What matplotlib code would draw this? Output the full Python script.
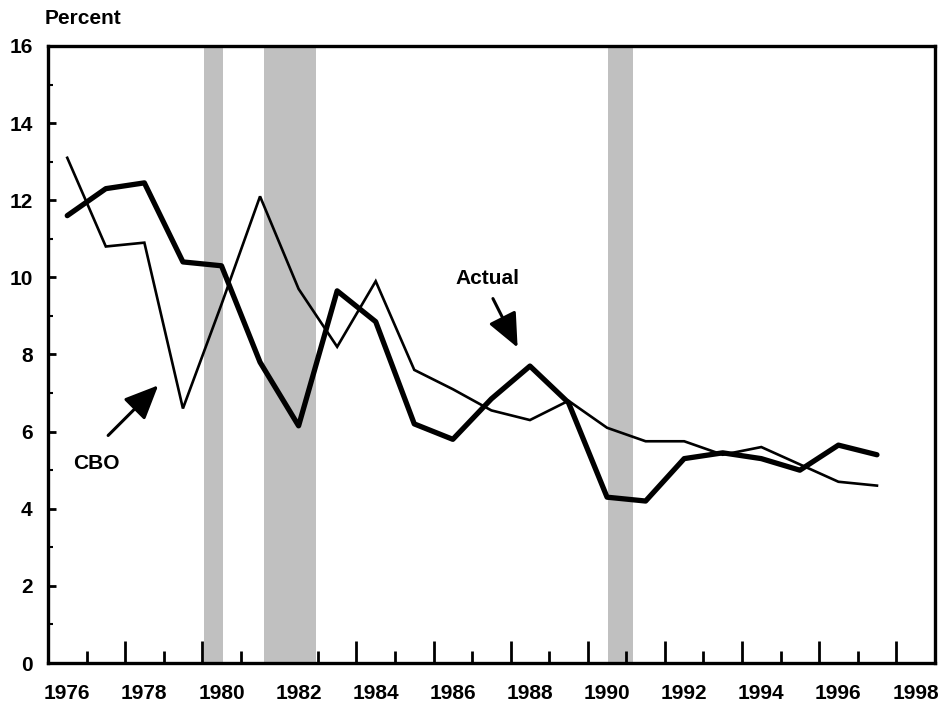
import matplotlib
matplotlib.use("Agg")
import matplotlib.pyplot as plt

plt.rcParams['font.family'] = ['Liberation Sans', 'DejaVu Sans']
plt.rcParams['font.weight'] = 'bold'

years = list(range(1976, 1998))
actual = [11.6, 12.3, 12.45, 10.4, 10.3, 7.8, 6.15, 9.65, 8.85, 6.2, 5.8,
          6.85, 7.7, 6.75, 4.3, 4.2, 5.3, 5.45, 5.3, 5.0, 5.65, 5.4]
cbo = [13.1, 10.8, 10.9, 6.6, 9.3, 12.1, 9.7, 8.2, 9.9, 7.6, 7.1,
       6.55, 6.3, 6.8, 6.1, 5.75, 5.75, 5.4, 5.6, 5.15, 4.7, 4.6]
recessions = [(1979.55, 1980.04), (1981.1, 1982.45), (1990.02, 1990.66)]
label_years = list(range(1976, 1999, 2))

fig = plt.figure(figsize=(9.5, 7.07), dpi=100)
ax = fig.add_axes([0.0505, 0.0622, 0.9335, 0.8728])

for start, end in recessions:
	ax.axvspan(start, end, color='#c0c0c0', lw=0, zorder=1)

ax.plot(years, cbo, color='black', lw=1.9, zorder=3, solid_joinstyle='miter')
ax.plot(years, actual, color='black', lw=3.8, zorder=4, solid_capstyle='round')

ax.set_xlim(1975.5, 1998.5)
ax.set_ylim(0, 16)

# y axis
ax.set_yticks(range(0, 17, 2))
ax.set_yticks(range(1, 16, 2), minor=True)
ax.tick_params(axis='y', which='major', direction='in', length=6, width=2,
               labelsize=15, pad=11)
ax.tick_params(axis='y', which='minor', direction='in', length=3.5, width=1.5)

# x axis: labels at years, marks between years
ax.set_xticks(label_years, [str(y) for y in label_years])
ax.set_xticks([y + 0.5 for y in range(1976, 1998, 2)], minor=True)
ax.tick_params(axis='x', which='major', length=0, labelsize=15, pad=15)
ax.tick_params(axis='x', which='minor', direction='in', length=8.5, width=2)

sec = ax.secondary_xaxis('bottom')
sec.set_xticks([y + 0.5 for y in range(1977, 1998, 2)], ['' for _ in range(1977, 1998, 2)])
sec.tick_params(axis='x', direction='in', length=16, width=2)
sec.spines['bottom'].set_visible(False)

for s in ax.spines.values():
	s.set_linewidth(2.4)
	s.set_zorder(5)

arrow = dict(arrowstyle='-|>,head_length=0.95,head_width=0.42',
             color='black', lw=2.2, mutation_scale=22, shrinkA=0, shrinkB=0)

ax.text(1986.9, 9.97, 'Actual', ha='center', va='center', fontsize=15, fontweight='bold')
ax.annotate('', xy=(1987.68, 8.18), xytext=(1987.04, 9.45), arrowprops=arrow)

ax.text(1976.75, 5.18, 'CBO', ha='center', va='center', fontsize=15, fontweight='bold')
ax.annotate('', xy=(1978.36, 7.2), xytext=(1977.06, 5.9), arrowprops=arrow)

fig.text(0.047, 1 - 18 / 707, 'Percent', fontsize=15, fontweight='bold', va='center')

fig.savefig('out.png', dpi=100)
